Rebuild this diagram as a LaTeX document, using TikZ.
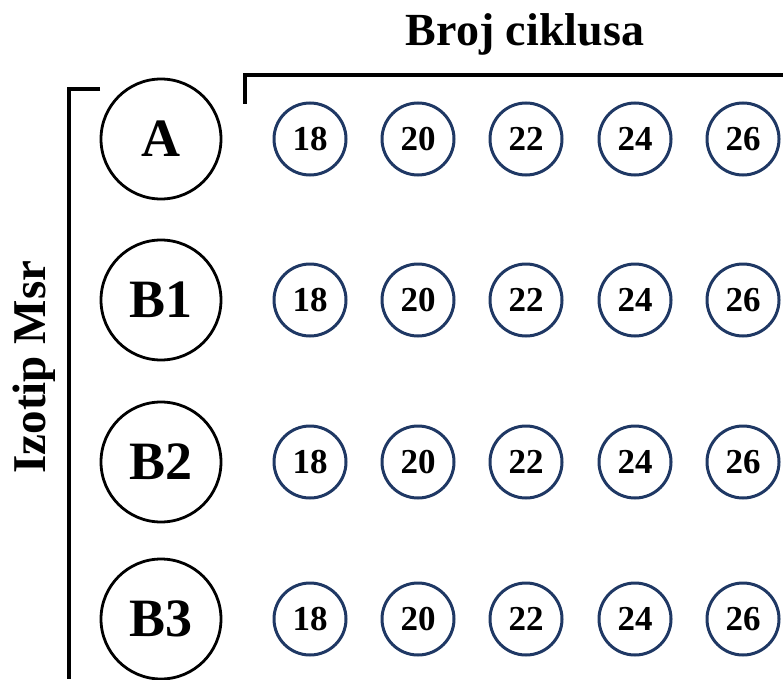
\documentclass[tikz,border=0pt]{standalone}
\usepackage{fontspec}
\setmainfont{Liberation Serif}
\usetikzlibrary{positioning}
\definecolor{ringblue}{RGB}{31,56,100}

\begin{document}
\begin{tikzpicture}[x=1pt, y=-1pt,
    iso/.style = {draw, circle, line width=2.8pt, minimum size=120pt, inner sep=0pt, font=\fontsize{54}{54}\selectfont\bfseries},
    cyc/.style = {draw=ringblue, circle, line width=3pt, minimum size=72pt, inner sep=0pt, font=\fontsize{35}{35}\selectfont\bfseries},
    lbl/.style = {font=\fontsize{46}{46}\selectfont\bfseries},
    brace/.style = {line width=3.2pt}]
    \useasboundingbox (0,0) rectangle (783,679);
    % isotypes
    \node[iso] (A) at (161,139) {A};
    \node[iso] (B1) at (161,300) {B1};
    \node[iso] (B2) at (161,462) {B2};
    \node[iso] (B3) at (161,619) {B3};
    % cycle numbers
    \foreach \r/\y in {A/139,B1/300,B2/462,B3/619}
        \foreach \n/\x in {18/310,20/418,22/526,24/635,26/743}
            \node[cyc] (\r-\n) at (\x,\y) {\n};
    \node[lbl] (broj) at (525,34) {Broj ciklusa};
    \node[lbl, rotate=90, font=\fontsize{47}{47}\selectfont\bfseries] (izotip) at (34,367) {Izotip Msr};
    % brackets
    \coordinate (topl) at (245,104);
    \coordinate (sidel) at (100,89);
    \draw[brace] (topl) -- (245,75) -- (783,75);
    \draw[brace] (sidel) -- (69,89) -- (69,679);
\end{tikzpicture}
\end{document}
